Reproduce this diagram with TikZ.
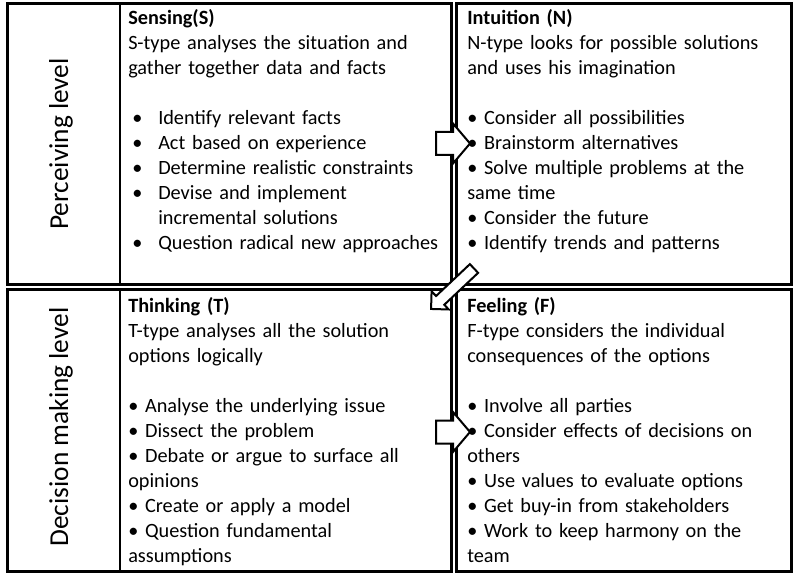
\documentclass[tikz,border=0pt]{standalone}
\usepackage{fontspec}
\setmainfont{Carlito}

% bullets: hanging one for the Sensing list, plain one for the others
\newcommand{\sbul}{\makebox[22.5pt][l]{\hspace{3pt}\textbullet}}
\newcommand{\nbul}{\textbullet\ }

% block arrow: #1 tail, #2 angle, #3 length, #4 head length, #5 half shaft, #6 half head
\newcommand{\blockarrow}[6]{%
  \begin{scope}[shift={#1}, rotate=#2]
    \filldraw[barrow] (0,-#5) -- ({#3-#4},-#5) -- ({#3-#4},-#6) -- (#3,0)
      -- ({#3-#4},#6) -- ({#3-#4},#5) -- (0,#5) -- cycle;
  \end{scope}}

\begin{document}
\begin{tikzpicture}[x=0.75pt, y=-0.75pt,
    panel/.style={draw=black, line width=2.25pt},
    divider/.style={draw=black, line width=1.9pt},
    body/.style={anchor=base west, inner sep=0pt, align=left, text width=262pt,
      font=\fontsize{15.2}{18.75}\selectfont},
    level/.style={rotate=90, inner sep=0pt, font=\fontsize{20.5}{23}\selectfont},
    barrow/.style={fill=white, draw=black, line width=1.5pt, line join=miter}]
  \useasboundingbox (0,0) rectangle (800,574);

  % --- 1. The four panels ---
  \draw[panel] (7.5,4) rectangle (451.5,284);
  \draw[panel] (456.5,4) rectangle (791.5,284);
  \draw[panel] (7.5,289.5) rectangle (451.5,571.5);
  \draw[panel] (456.5,289.5) rectangle (791.5,571.5);

  % level column on the left
  \draw[divider] (120,4) -- (120,284);
  \draw[divider] (120,289.5) -- (120,571.5);
  \node[level] (perc) at (61,144) {Perceiving level};
  \node[level] (deci) at (61,427) {Decision making level};

  % --- 2. Perceiving level ---
  \node[body] (sens) at (128,25) {\textbf{Sensing(S)}\\
    S-type analyses the situation and\\
    gather together data and facts\\[18.75pt]
    \sbul Identify relevant facts\\
    \sbul Act based on experience\\
    \sbul Determine realistic constraints\\
    \sbul Devise and implement\\
    \hspace*{22.5pt}incremental solutions\\
    \sbul Question radical new approaches};

  \node[body] (intu) at (467,25) {\textbf{Intuition (N)}\\
    N-type looks for possible solutions\\
    and uses his imagination\\[18.75pt]
    \nbul Consider all possibilities\\
    \nbul Brainstorm alternatives\\
    \nbul Solve multiple problems at the\\
    same time\\
    \nbul Consider the future\\
    \nbul Identify trends and patterns};

  % --- 3. Decision making level ---
  \node[body] (think) at (128,312) {\textbf{Thinking (T)}\\
    T-type analyses all the solution\\
    options logically\\[18.75pt]
    \nbul Analyse the underlying issue\\
    \nbul Dissect the problem\\
    \nbul Debate or argue to surface all\\
    opinions\\
    \nbul Create or apply a model\\
    \nbul Question fundamental\\
    assumptions};

  \node[body] (feel) at (467,312) {\textbf{Feeling (F)}\\
    F-type considers the individual\\
    consequences of the options\\[18.75pt]
    \nbul Involve all parties\\
    \nbul Consider effects of decisions on\\
    others\\
    \nbul Use values to evaluate options\\
    \nbul Get buy-in from stakeholders\\
    \nbul Work to keep harmony on the\\
    team};

  % --- 4. Block arrows S -> N -> T -> F ---
  \blockarrow{(436,143.5)}{0}{34}{17}{11.5}{20}
  \blockarrow{(474,268.5)}{223.3}{59}{12.5}{6}{12.5}
  \blockarrow{(436,432)}{0}{34}{17}{11.5}{20}
\end{tikzpicture}
\end{document}
